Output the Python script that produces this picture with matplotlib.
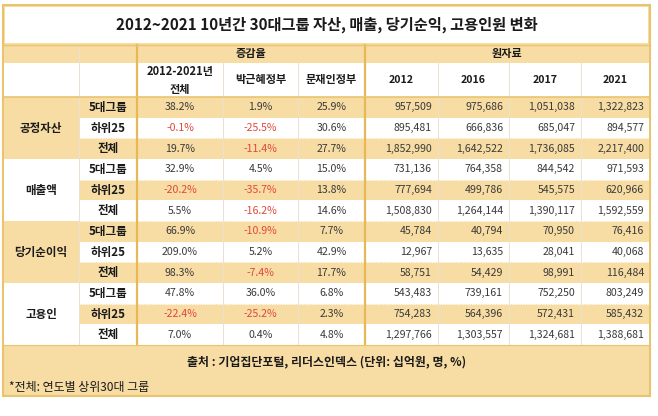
import matplotlib
matplotlib.use("Agg")
import matplotlib.pyplot as plt
import matplotlib.patches as mpatches

plt.rcParams['font.family'] = ['Noto Sans CJK KR', 'DejaVu Sans']

# ── data ─────────────────────────────────────────────────────────────────────
title = "2012~2021 10년간 30대그룹 자산, 매출, 당기순익, 고용인원 변화"
categories = ["공정자산", "매출액", "당기순이익", "고용인"]
subgroups = ["5대그룹", "하위25", "전체"]
pct_headers = ["2012-2021년\n전체", "박근혜정부", "문재인정부"]
years = ["2012", "2016", "2017", "2021"]

pct_total = [38.2, -0.1, 19.7, 32.9, -20.2, 5.5, 66.9, 209.0, 98.3, 47.8, -22.4, 7.0]
pct_park = [1.9, -25.5, -11.4, 4.5, -35.7, -16.2, -10.9, 5.2, -7.4, 36.0, -25.2, 0.4]
pct_moon = [25.9, 30.6, 27.7, 15.0, 13.8, 14.6, 7.7, 42.9, 17.7, 6.8, 2.3, 4.8]

raw_2012 = [957509, 895481, 1852990, 731136, 777694, 1508830, 45784, 12967, 58751, 543483, 754283, 1297766]
raw_2016 = [975686, 666836, 1642522, 764358, 499786, 1264144, 40794, 13635, 54429, 739161, 564396, 1303557]
raw_2017 = [1051038, 685047, 1736085, 844542, 545575, 1390117, 70950, 28041, 98991, 752250, 572431, 1324681]
raw_2021 = [1322823, 894577, 2217400, 971593, 620966, 1592559, 76416, 40068, 116484, 803249, 585432, 1388681]

source = "출처 : 기업집단포털, 리더스인덱스 (단위: 십억원, 명, %)"
note = "*전체: 연도별 상위30대 그룹"

# ── layout (pixels) ──────────────────────────────────────────────────────────
COLS = [3, 79, 137, 223, 298, 365, 438, 509, 581, 650]
TOP_TITLE, BOT_TITLE = 5, 43
H1_TOP, H2_TOP, DATA_TOP = 45, 63, 97
ROW_H = 20.67
DATA_BOT = DATA_TOP + 12 * ROW_H
FOOT_BOT = 396

TAN = "#F7DCA3"
GOLD = "#E9C46F"
TXT = "#3a3a3a"
DARK = "#1a1a1a"
RED = "#E0483C"
FS = 7.6

fig = plt.figure(figsize=(6.58, 4.16), dpi=100)
ax = fig.add_axes([0, 0, 1, 1])
ax.set_xlim(0, 658)
ax.set_ylim(416, 0)
ax.axis("off")

def rect(x0, y0, x1, y1, fc, ec="none", lw=0, z=1):
    ax.add_patch(mpatches.Rectangle((x0, y0), x1 - x0, y1 - y0, facecolor=fc,
                                    edgecolor=ec, linewidth=lw, zorder=z))

L, R = COLS[0], COLS[-1]

# background frame (tan) + title box
rect(L, TOP_TITLE, R, FOOT_BOT, TAN, GOLD, 1.5, z=0)
rect(L + 2, TOP_TITLE + 2, R - 2, BOT_TITLE, "white", z=1)
ax.text((L + R) / 2, (TOP_TITLE + BOT_TITLE) / 2 + 1, title, ha="center", va="center",
        fontsize=11, fontweight="bold", color=DARK, zorder=5)

# header row 1 tan, row 2 white
rect(L + 1, H1_TOP, R - 1, H2_TOP, TAN, z=1)
rect(L + 1, H2_TOP, R - 1, DATA_TOP, "white", z=1)
ax.text((COLS[2] + COLS[5]) / 2, (H1_TOP + H2_TOP) / 2, "증감율", ha="center",
        va="center", fontsize=8, fontweight="bold", color=DARK, zorder=5)
ax.text((COLS[5] + COLS[9]) / 2, (H1_TOP + H2_TOP) / 2, "원자료", ha="center",
        va="center", fontsize=8, fontweight="bold", color=DARK, zorder=5)
for i, h in enumerate(pct_headers):
    ax.text((COLS[2 + i] + COLS[3 + i]) / 2, (H2_TOP + DATA_TOP) / 2, h,
            ha="center", va="center", fontsize=8, fontweight="bold",
            color=DARK, linespacing=1.5, zorder=5)
for i, y in enumerate(years):
    ax.text((COLS[5 + i] + COLS[6 + i]) / 2, (H2_TOP + DATA_TOP) / 2, y,
            ha="center", va="center", fontsize=FS, fontweight="bold",
            color=DARK, zorder=5)

# data rows
pct_cols = [pct_total, pct_park, pct_moon]
raw_cols = [raw_2012, raw_2016, raw_2017, raw_2021]
for r in range(12):
    y0 = DATA_TOP + r * ROW_H
    y1 = y0 + ROW_H
    yc = (y0 + y1) / 2
    fc = TAN if r % 2 == 0 else "white"
    rect(COLS[1], y0, R - 1, y1, fc, z=1)
    ax.text((COLS[1] + COLS[2]) / 2, yc, subgroups[r % 3], ha="center",
            va="center", fontsize=8.3, fontweight="bold", color=DARK, zorder=5)
    for c, vals in enumerate(pct_cols):
        v = vals[r]
        ax.text((COLS[2 + c] + COLS[3 + c]) / 2, yc, f"{v:.1f}%", ha="center",
                va="center", fontsize=FS, color=RED if v < 0 else TXT, zorder=5)
    for c, vals in enumerate(raw_cols):
        ax.text(COLS[6 + c] - 6, yc, f"{vals[r]:,}", ha="right", va="center",
                fontsize=FS, color=TXT, zorder=5)
    if r > 0:
        ax.plot([COLS[1], R - 1], [y0, y0], color="white", lw=0.6,
                ls=(0, (2, 1)), zorder=3)

# category column
for g, cat in enumerate(categories):
    y0 = DATA_TOP + 3 * g * ROW_H
    y1 = y0 + 3 * ROW_H
    rect(L + 1, y0, COLS[1], y1, TAN if g % 2 == 0 else "white", z=1)
    ax.text((L + COLS[1]) / 2, (y0 + y1) / 2, cat, ha="center", va="center",
            fontsize=8.3, fontweight="bold", color=DARK, zorder=5)

# vertical grid lines
for x in COLS[1:-1]:
    if x in (COLS[2], COLS[5]):
        continue
    ax.plot([x, x], [H2_TOP, DATA_BOT], color="#E9E2D2", lw=0.7, zorder=3)
ax.plot([COLS[1], COLS[1]], [H1_TOP, DATA_BOT], color="#E9E2D2", lw=0.7, zorder=3)
for x in (COLS[2], COLS[5]):
    ax.plot([x, x], [H1_TOP, DATA_BOT], color="#E5B957", lw=1.6, zorder=4)
ax.plot([L, R], [DATA_TOP, DATA_TOP], color=GOLD, lw=1.2, zorder=4)
ax.plot([L, R], [H1_TOP, H1_TOP], color=GOLD, lw=1.0, zorder=4)
ax.plot([L, R], [DATA_BOT, DATA_BOT], color=GOLD, lw=0.8, zorder=4)

# footer
ax.text(327, 362, source, ha="center", va="center", fontsize=8.6,
        fontweight="bold", color=DARK, zorder=5)
ax.text(9, 387, note, ha="left", va="center", fontsize=8.6, color=DARK, zorder=5)

fig.savefig("out.png", dpi=100)
